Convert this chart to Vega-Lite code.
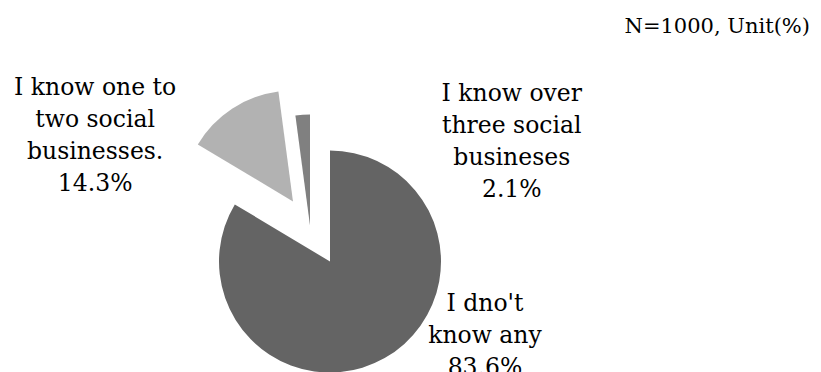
{
  "$schema": "https://vega.github.io/schema/vega-lite/v6.json",
  "width": 821,
  "height": 372,
  "autosize": {"type": "fit", "contains": "padding"},
  "padding": {"top": 16, "left": 0, "right": 11, "bottom": 0},
  "background": "white",
  "title": {"text": "N=1000, Unit(%)", "anchor": "end", "font": "DejaVu Serif", "fontSize": 21, "fontWeight": "normal", "color": "black", "offset": 0},
  "config": {"view": {"stroke": null}, "text": {"font": "DejaVu Serif"}},
  "data": {"values": [
    {"answer": "I dno't\nknow any", "percent": 83.6},
    {"answer": "I know one to\ntwo social\nbusinesses.", "percent": 14.3},
    {"answer": "I know over\nthree social\nbusineses", "percent": 2.1}
  ]},
  "transform": [
    {"stack": "percent", "groupby": [], "sort": [{"field": "percent", "order": "descending"}], "as": ["t0", "t1"]},
    {"calculate": "(datum.t0 + datum.t1) / 2", "as": "tm"},
    {"calculate": "datum.answer + '\\n' + format(datum.percent, '.1f') + '%'", "as": "label"}
  ],
  "layer": [
    {
      "transform": [{"filter": {"field": "answer", "equal": "I dno't\nknow any"}}],
      "mark": {"type": "arc", "outerRadius": 111, "xOffset": -75, "yOffset": 57, "color": "#646464"},
      "encoding": {"theta": {"field": "t0", "type": "quantitative", "scale": {"domain": [0, 100]}}, "theta2": {"field": "t1"}}
    },
    {
      "transform": [{"filter": {"field": "answer", "equal": "I know one to\ntwo social\nbusinesses."}}],
      "mark": {"type": "arc", "outerRadius": 111, "xOffset": -112, "yOffset": -3, "color": "#b2b2b2"},
      "encoding": {"theta": {"field": "t0", "type": "quantitative", "scale": {"domain": [0, 100]}}, "theta2": {"field": "t1"}}
    },
    {
      "transform": [{"filter": {"field": "answer", "equal": "I know over\nthree social\nbusineses"}}],
      "mark": {"type": "arc", "outerRadius": 111, "xOffset": -95, "yOffset": 21, "color": "#808080"},
      "encoding": {"theta": {"field": "t0", "type": "quantitative", "scale": {"domain": [0, 100]}}, "theta2": {"field": "t1"}}
    },
    {
      "transform": [{"filter": {"field": "answer", "equal": "I dno't\nknow any"}}],
      "mark": {"type": "text", "radius": 140, "xOffset": -75, "yOffset": 57, "dx": 86, "dy": -72, "fontSize": 23.5, "lineHeight": 32, "lineBreak": "\n", "align": "center", "baseline": "alphabetic", "color": "black"},
      "encoding": {"theta": {"field": "tm", "type": "quantitative", "stack": null}, "text": {"field": "label"}}
    },
    {
      "transform": [{"filter": {"field": "answer", "equal": "I know one to\ntwo social\nbusinesses."}}],
      "mark": {"type": "text", "radius": 140, "xOffset": -112, "yOffset": -3, "dx": -121, "dy": 11, "fontSize": 23.5, "lineHeight": 32, "lineBreak": "\n", "align": "center", "baseline": "alphabetic", "color": "black"},
      "encoding": {"theta": {"field": "tm", "type": "quantitative", "stack": null}, "text": {"field": "label"}}
    },
    {
      "transform": [{"filter": {"field": "answer", "equal": "I know over\nthree social\nbusineses"}}],
      "mark": {"type": "text", "radius": 140, "xOffset": -95, "yOffset": 21, "dx": 211, "dy": 15, "fontSize": 23.5, "lineHeight": 32, "lineBreak": "\n", "align": "center", "baseline": "alphabetic", "color": "black"},
      "encoding": {"theta": {"field": "tm", "type": "quantitative", "stack": null}, "text": {"field": "label"}}
    }
  ]
}
